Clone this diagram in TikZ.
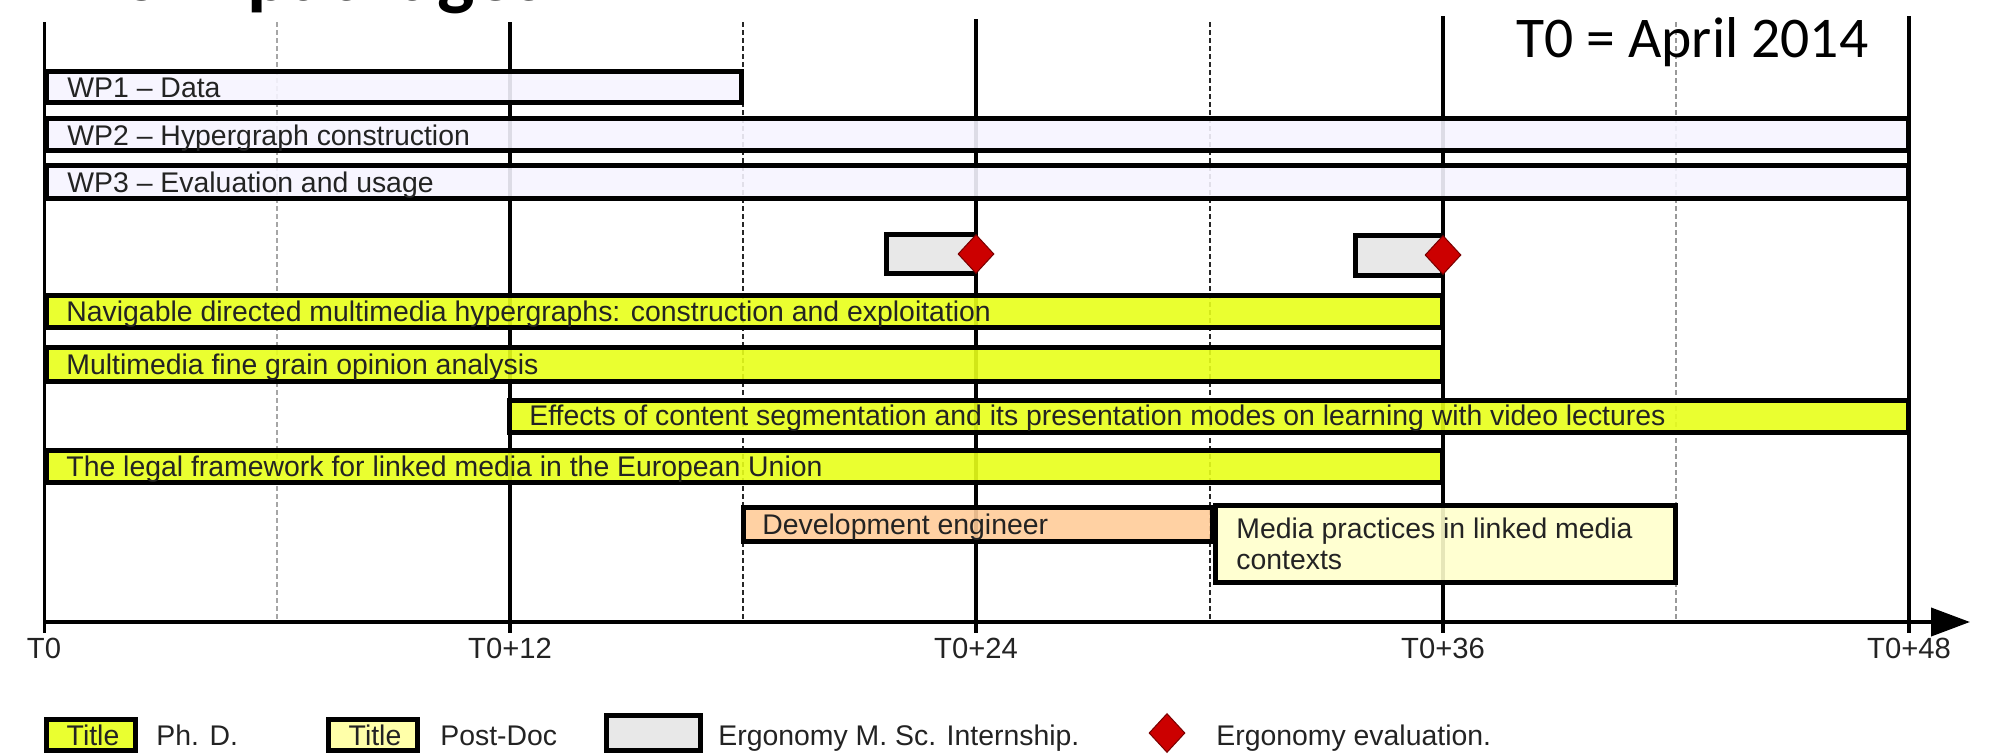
\documentclass[tikz,border=0pt]{standalone}
\usepackage{fontspec}
\setmainfont{Liberation Sans}
\newfontfamily\calibrifont{Carlito}
\usetikzlibrary{arrows.meta,shapes.geometric}

\definecolor{wpfill}{RGB}{246,244,255}
\definecolor{phdfill}{RGB}{232,255,26}
\definecolor{intfill}{RGB}{230,230,230}
\definecolor{engfill}{RGB}{255,204,153}
\definecolor{pdfill}{RGB}{255,255,204}
\definecolor{pdlegfill}{RGB}{255,255,160}
\definecolor{evalred}{RGB}{204,0,0}
\definecolor{evaledge}{RGB}{120,0,0}
\definecolor{txt}{RGB}{35,35,35}

\tikzset{
  barbox/.style={draw=black, line width=2.5pt, rectangle, inner sep=0pt, fill opacity=0.9},
  wpbar/.style={barbox, fill=wpfill},
  phdbar/.style={barbox, fill=phdfill},
  intbar/.style={barbox, fill=intfill},
  engbar/.style={barbox, fill=engfill},
  pdbar/.style={barbox, fill=pdfill},
  pdlegbar/.style={barbox, fill=pdlegfill},
  evaldiamond/.style={diamond, draw=evaledge, fill=evalred, line width=0.5pt, inner sep=0pt,
    minimum width=18pt, minimum height=19.5pt},
  bartext/.style={anchor=base west, inner sep=0pt, text=txt, font=\fontsize{14.2}{17}\selectfont},
  axlabel/.style={anchor=base, inner sep=0pt, text=txt, font=\fontsize{14.6}{17}\selectfont},
  monthline/.style={line width=1.8pt, black},
  halfline/.style={line width=0.75pt, dash pattern=on 2.5pt off 1.5pt},
  axisline/.style={line width=2pt, black, -{Triangle[length=19.5pt,width=14pt]}},
}

\newcommand\ganttbar[6]{% name, style, x1, y1, x2, y2 (outer edges, px)
  \node[#2, anchor=north west, minimum width={(#5-#3-5)*0.5pt},
        minimum height={(#6-#4-5)*0.5pt}] (#1) at (#3,#4) {};}

\begin{document}
\begin{tikzpicture}[x=0.5pt, y=-0.5pt]
\useasboundingbox (0,0) rectangle (1992,755);

% clipped title at the top edge
\begin{scope}
  \clip (0,0) rectangle (1992,755);
  \node[anchor=base west, inner sep=0pt, font=\calibrifont\bfseries\fontsize{39.5}{40}\selectfont]
    (title) at (52,1) {Work packages};
\end{scope}

% month grid
\coordinate (m0t) at (44,22);   \coordinate (m0b) at (44,633);
\coordinate (m12t) at (510,22); \coordinate (m12b) at (510,633);
\coordinate (m24t) at (976,19); \coordinate (m24b) at (976,633);
\coordinate (m36t) at (1443,16); \coordinate (m36b) at (1443,633);
\coordinate (m48t) at (1909,16); \coordinate (m48b) at (1909,633);
\coordinate (h6t) at (277,22);   \coordinate (h6b) at (277,622);
\coordinate (h18t) at (743,22);  \coordinate (h18b) at (743,622);
\coordinate (h30t) at (1210,22); \coordinate (h30b) at (1210,622);
\coordinate (h42t) at (1676,22); \coordinate (h42b) at (1676,622);

\draw[halfline, gray!70] (h6t) -- (h6b);
\draw[halfline, black!85] (h18t) -- (h18b);
\draw[halfline, black!85] (h30t) -- (h30b);
\draw[halfline, gray!80] (h42t) -- (h42b);
\draw[monthline, line width=1.5pt] (m0t) -- (m0b);
\draw[monthline] (m12t) -- (m12b);
\draw[monthline, line width=2pt] (m24t) -- (m24b);
\draw[monthline, line width=2pt] (m36t) -- (m36b);
\draw[monthline, line width=2pt] (m48t) -- (m48b);

% axis
\coordinate (ax0) at (44,622);
\coordinate (axend) at (1970,622);
\draw[axisline] (ax0) -- (axend);

\node[axlabel] (l0) at (44,658) {T0};
\node[axlabel] (l12) at (510,658) {T0+12};
\node[axlabel] (l24) at (976,658) {T0+24};
\node[axlabel] (l36) at (1443,658) {T0+36};
\node[axlabel] (l48) at (1909,658) {T0+48};

% work packages
\ganttbar{wp1}{wpbar}{44}{69}{744}{105}
\ganttbar{wp2}{wpbar}{44}{116}{1911}{153}
\ganttbar{wp3}{wpbar}{44}{163}{1911}{201}
\node[bartext] (wp1-t) at (67,97) {WP1 – Data};
\node[bartext] (wp2-t) at (67,145) {WP2 – Hypergraph construction};
\node[bartext] (wp3-t) at (67,192) {WP3 – Evaluation and usage};

% internships and evaluations
\ganttbar{int1}{intbar}{884}{232}{978}{276}
\ganttbar{int2}{intbar}{1353}{233}{1445}{278}
\node[evaldiamond] (ev1) at (976,254) {};
\node[evaldiamond] (ev2) at (1443,255) {};

% PhD theses
\ganttbar{phd1}{phdbar}{44}{293}{1445}{330}
\ganttbar{phd2}{phdbar}{44}{345}{1445}{384}
\ganttbar{phd3}{phdbar}{507}{398}{1911}{435}
\ganttbar{phd4}{phdbar}{44}{448}{1445}{485}
\node[bartext] (phd1-t) at (66,321.5) {Navigable directed multimedia hypergraphs: construction and exploitation};
\node[bartext] (phd2-t) at (66,374) {Multimedia fine grain opinion analysis};
\node[bartext] (phd3-t) at (529,425) {Effects of content segmentation and its presentation modes on learning with video lectures};
\node[bartext] (phd4-t) at (66,476.5) {The legal framework for linked media in the European Union};

% engineer and post-doc
\ganttbar{eng}{engbar}{741}{505}{1215}{544}
\node[bartext] (eng-t) at (762,534) {Development engineer};
\ganttbar{pd}{pdbar}{1213}{503}{1678}{585}
\node[bartext] (pd-t1) at (1236,538) {Media practices in linked media};
\node[bartext] (pd-t2) at (1236,569) {contexts};

% T0 note
\node[anchor=base west, inner sep=0pt, font=\calibrifont\fontsize{28.8}{30}\selectfont]
  (t0note) at (1516,57) {T0 = April 2014};

% legend
\ganttbar{lgphd}{phdbar}{44}{717}{138}{753}
\node[bartext, anchor=base] (lgphd-t) at (93,745) {Title};
\node[bartext] (lgphd-l) at (156,745) {Ph. D.};
\ganttbar{lgpd}{pdlegbar}{326}{717}{420}{753}
\node[bartext, anchor=base] (lgpd-t) at (375,745) {Title};
\node[bartext] (lgpd-l) at (440,745) {Post-Doc};
\ganttbar{lgint}{intbar}{604}{713}{703}{753}
\node[bartext] (lgint-l) at (718,745) {Ergonomy M. Sc. Internship.};
\node[evaldiamond] (lgev) at (1167,733) {};
\node[bartext] (lgev-l) at (1216,745) {Ergonomy evaluation.};
\end{tikzpicture}
\end{document}
